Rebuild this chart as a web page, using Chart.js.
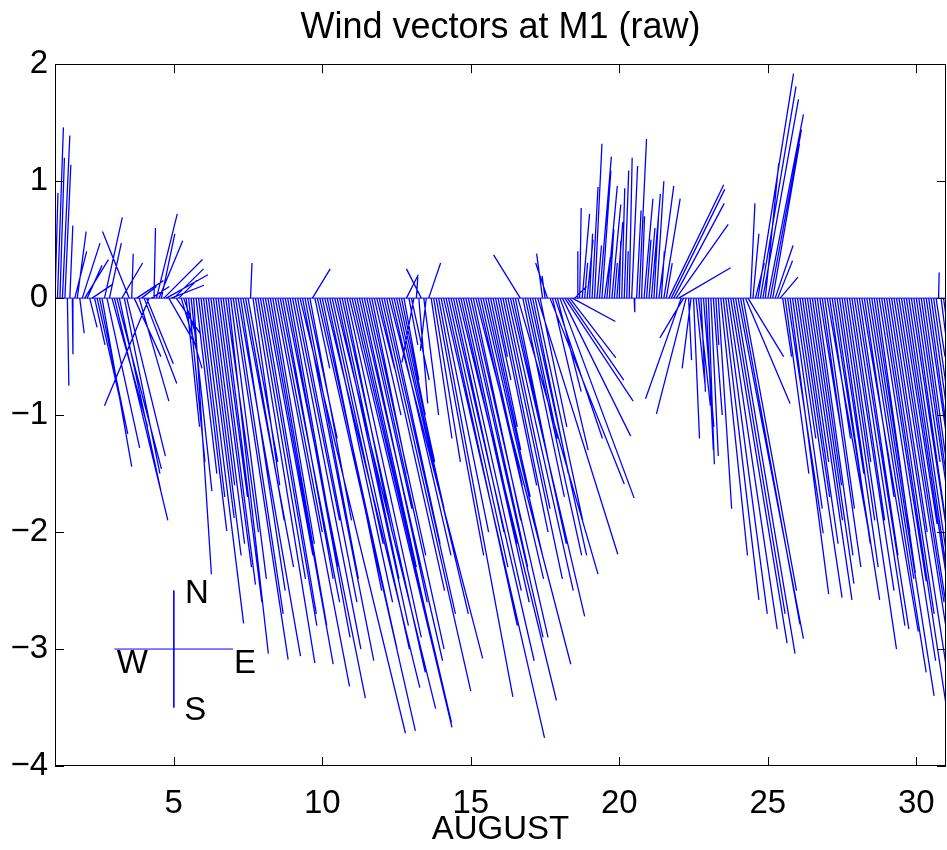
<!DOCTYPE html>
<html>
<head>
<meta charset="utf-8">
<script src="https://cdn.jsdelivr.net/npm/chart.js@4.4.1/dist/chart.umd.min.js"></script>
<style>
  html, body { margin: 0; background: #fff; }
  canvas { display: block; }
</style>
</head>
<body>
<canvas id="chart" width="947" height="850"></canvas>
<script>
// sampling of the record: 2-hourly, starting 1 August
const FIRST_DAY = 1;
const SAMPLES_PER_DAY = 12;

// feather components: u = east offset (in day units), v = north
const windU = [
  0.10, 0.20, 0.15, 0.25, 0.20, 0.05, 0.10, 0.02, 0.40, 0.30, 0.15, 0.60,      // 1
  0.80, 0.50, 0.25, 0.70, 0.35, 0.80, 0.95, 1.00, 0.60, 1.10, 0.40, 1.20,      // 2
  1.80, 1.50, 1.40, 0.70, 1.20, 1.30, -0.90, 0.05, 0.90, 0.90, 1.00, 0.50,     // 3
  1.10, 0.90, -1.50, 0.60, 0.05, 0.70, 0.80, 0.45, 1.30, 1.40, 0.90, 1.10,     // 4
  1.00, 0.80, 0.60, 0.70, 0.40, 0.45, 0.55, 0.70, 0.60, 0.70, 0.95, 0.80,      // 5
  1.35, 0.95, 1.10, 0.80, 1.05, 1.20, 1.25, 0.90, 1.30, 1.10, 1.35, 1.20,      // 6
  1.85, 1.60, 2.10, 1.50, 1.70, 1.30, 1.00, 0.05, 0.90, 2.00, 1.60, 1.90,      // 7
  1.80, 1.60, 2.20, 1.90, 1.40, 2.50, 1.50, 2.00, 1.70, 2.70, 2.10, 1.60,      // 8
  2.30, 1.50, 2.00, 3.55, 2.40, 1.80, 1.00, 1.40, 0.60, 0.50, 3.30, 2.60,      // 9
  2.00, 3.20, 2.20, 1.80, 2.60, 3.40, 2.40, 2.00, 2.80, 1.60, 2.50, 3.45,      // 10
  3.35, 2.50, 2.00, 2.80, 2.20, 1.60, 2.60, 1.90, 1.20, 0.90, 0.60, 2.20,      // 11
  3.00, 2.40, 1.80, 3.15, 2.00, 2.50, 1.60, 1.20, 0.80, 0.50, 0.40, 0.30,      // 12
  0.60, -0.40, 0.05, 0.30, -0.50, 0.50, -0.20, 0.40, 0.70, 0.90, 1.60, 2.50,   // 13
  1.60, 3.40, 2.40, 2.00, 2.80, 1.70, 2.20, 3.30, 2.30, 1.80, 2.60, 2.00,      // 14
  2.60, 1.60, 3.20, 2.20, 1.40, 2.00, 1.50, 1.10, 0.90, 0.60, 0.40, 1.30,      // 15
  1.60, 2.00, 1.50, 2.20, 2.50, 1.80, 1.20, 2.70, -0.90, 1.40, 1.90, 1.00,     // 16
  1.90, 1.20, 1.60, 2.70, 0.90, -0.20, -0.10, -0.40, 2.50, 1.20, 1.60, 0.80,   // 17
  2.50, 2.30, 2.30, 1.90, 1.55, 1.45, 0.40, 0.02, 0.05, 0.25, 0.10, 0.20,      // 18
  0.10, 0.20, 0.25, 0.15, 0.40, 0.30, 0.20, 0.35, 0.15, 0.30, 0.10, 0.20,      // 19
  0.05, 0.10, 0.15, 0.05, 0.10, 0.20, 0.02, 0.15, 0.25, 0.10, 0.30, 0.15,      // 20
  0.20, 0.30, 0.15, 0.25, 0.50, 0.10, 0.55, 0.20, 1.85, 1.80, 1.70, 1.75,      // 21
  1.75, -1.20, -0.80, -1.00, 0.10, -0.30, 0.20, 0.30, 0.40, 0.15, 0.35, 0.25,  // 22
  0.20, 0.25, 0.30, 0.10, 0.45, 0.90, 1.20, 1.40, 1.65, 1.90, 1.75, 2.00,      // 23
  2.20, 2.00, 1.80, 1.50, 1.20, 0.15, 0.20, 0.30, 1.20, 1.20, 1.20, 0.45,      // 24
  1.20, 1.05, 0.90, 0.60, 0.50, 0.60, 0.30, 0.80, 1.20, 1.30, 1.00, 0.70,      // 25
  1.50, 1.00, 1.20, 0.80, 1.50, 1.10, 1.40, 0.90, 1.20, 0.70, 1.30, 1.00,      // 26
  1.40, 0.70, 1.60, 1.20, 0.90, 1.30, 1.10, 1.75, 0.80, 1.50, 1.10, 1.70,      // 27
  1.75, 1.30, 1.90, 1.00, 2.00, 1.50, 2.10, 1.20, 1.30, 1.90, 1.50, 2.10,      // 28
  1.60, 2.20, 1.20, 2.30, 1.60, 2.20, 1.20, 1.80, 1.40, 2.20, 1.20, 1.80,      // 29
  0.80, 1.50, 1.00, 1.80, 0.70, 1.20, 0.50, 0.90, 0.30, 0.02, 0.30, 0.60       // 30
];
const windV = [
  0.90, 1.46, 1.20, 1.39, 1.14, -0.75, 0.62, -0.48, 0.40, 0.57, -0.30, 0.47,          // 1
  0.33, 0.28, -0.25, 0.12, -0.40, -0.90, -1.16, -1.44, 0.69, -1.28, 0.47, -1.10,      // 2
  -1.90, -1.46, -1.65, 0.30, -1.50, -1.35, 0.57, 0.38, -0.50, 0.15, -0.88, 0.10,      // 3
  -0.73, -0.56, -0.92, 0.10, 0.60, 0.72, 0.49, 0.55, 0.33, 0.20, -0.40, 0.11,         // 4
  0.25, -0.30, 0.15, -0.60, -0.30, -1.10, -1.40, -1.65, -2.36, -1.50, -1.99, -1.70,   // 5
  -2.78, -1.88, -2.20, -1.60, -2.10, -2.30, -2.45, -1.70, -2.60, -2.00, -3.04, -2.40, // 6
  -3.09, -2.70, -3.06, -2.50, -2.30, -1.90, -1.40, 0.30, -1.60, -3.12, -2.40, -2.80,  // 7
  -2.70, -2.20, -3.13, -2.80, -2.10, -3.32, -2.00, -2.60, -2.40, -3.42, -2.90, -2.30, // 8
  -3.00, -1.90, -2.60, -3.72, -3.10, -2.40, -1.20, -1.90, 0.25, -0.60, -3.70, -3.00,  // 9
  -2.50, -3.33, -2.60, -2.10, -3.00, -3.51, -2.80, -2.40, -3.20, -2.00, -2.90, -3.67, // 10
  -3.63, -2.80, -2.30, -3.10, -2.60, -1.80, -3.00, -2.20, -1.50, -1.00, -0.60, -2.50, // 11
  -3.36, -2.70, -2.10, -3.08, -2.20, -2.70, -1.80, -1.40, -1.00, -0.70, 0.20, -0.40,  // 12
  -0.70, -0.55, 0.18, -0.90, 0.25, -1.00, -0.45, 0.30, -1.20, -1.40, -2.20, -3.41,    // 13
  -2.00, -3.76, -2.80, -2.30, -3.10, -2.00, -2.50, -3.44, -2.60, -2.10, -2.90, -2.30, // 14
  -2.90, -1.90, -3.13, -2.40, -1.60, -2.20, -1.70, -1.30, -1.10, -0.70, -0.50, -1.60, // 15
  -2.00, -2.40, -1.80, -2.50, -2.72, -2.10, -1.50, -2.36, 0.37, -1.70, -2.20, -1.20,  // 16
  -2.20, -1.50, -1.90, -2.19, -1.10, 0.38, 0.19, 0.30, -1.59, -1.30, -1.20, -0.80,    // 17
  -1.71, -1.18, -0.88, -0.70, -0.51, -0.20, 0.10, 0.40, 0.77, 0.72, 0.30, 0.50,       // 18
  0.55, 0.95, 1.32, 0.45, 1.21, 1.09, 0.35, 0.96, 0.59, 0.80, 0.30, 0.65,             // 19
  0.49, 0.94, 1.09, 0.40, 1.20, 1.13, -0.12, 0.75, 1.36, 0.70, 0.85, 0.50,            // 20
  0.60, 0.89, 0.68, 1.00, 0.96, 0.40, 0.85, 0.30, 0.97, 0.93, 0.81, 0.63,             // 21
  0.26, -0.86, -0.34, -0.99, -0.53, -0.60, -1.20, -0.73, -0.92, -0.80, -1.10, -1.30,  // 22
  -1.42, -1.35, -1.00, -0.40, -1.80, -2.20, -2.58, -2.70, -2.83, -2.95, -2.70, -3.04, // 23
  -2.91, -2.79, -2.50, -0.90, -0.50, 0.81, 0.55, 0.30, 1.92, 1.81, 1.70, 1.15,        // 24
  1.57, 1.44, 1.32, 0.45, 0.32, 0.18, -0.50, -1.50, -2.01, -2.53, -1.80, -1.20,       // 25
  -2.56, -1.70, -2.10, -1.40, -2.58, -1.90, -2.44, -1.60, -2.20, -1.10, -2.30, -1.80, // 26
  -2.00, -1.20, -2.58, -2.10, -1.50, -2.30, -1.90, -3.00, -1.40, -2.50, -1.90, -2.80, // 27
  -2.83, -2.20, -2.85, -1.70, -3.20, -2.40, -3.40, -2.00, -2.35, -3.10, -2.42, -3.50, // 28
  -2.70, -3.60, -2.00, -3.70, -2.60, -3.64, -1.93, -3.00, -2.40, -3.80, -2.00, -3.20, // 29
  -1.40, -2.60, -1.80, -3.30, -1.20, -2.20, -0.90, -1.60, -0.50, 0.22, -0.60, -1.10   // 30
];

const xTicks = [5, 10, 15, 20, 25, 30];
const yTicks = [-4, -3, -2, -1, 0, 1, 2];
const xRange = [1, 31];
const yRange = [-4, 2];

const FONT = "'Liberation Sans', Arial, Helvetica, sans-serif";
const BLUE = '#0000ff';

// each vector: baseline point -> tip, then a gap
const feather = [];
windU.forEach((u, i) => {
  const t = FIRST_DAY + i / SAMPLES_PER_DAY;
  feather.push({x: t, y: 0}, {x: t + u, y: windV[i]}, {x: t, y: null});
});

// N/S/W/E cross drawn in the lower left corner
const compass = [
  {x: 3, y: -3}, {x: 7, y: -3}, {x: 5, y: null},
  {x: 5, y: -2.5}, {x: 5, y: -3.5}
];
const compassText = [
  {t: 'N', x: 5.78, y: -2.53},
  {t: 'S', x: 5.72, y: -3.53},
  {t: 'W', x: 3.6, y: -3.13},
  {t: 'E', x: 7.4, y: -3.13}
];

const frame = {
  id: 'frame',
  afterDatasetsDraw(chart) {
    const {ctx, chartArea: a, scales: {x, y}} = chart;
    ctx.save();
    ctx.strokeStyle = '#000';
    ctx.lineWidth = 1;
    ctx.strokeRect(Math.round(a.left) + 0.5, Math.round(a.top) + 0.5,
                   Math.round(a.right - a.left) - 1, Math.round(a.bottom - a.top) - 1);
    const len = 9;
    ctx.beginPath();
    x.ticks.forEach(tk => {
      const px = Math.round(x.getPixelForValue(tk.value)) + 0.5;
      ctx.moveTo(px, a.bottom); ctx.lineTo(px, a.bottom - len);
      ctx.moveTo(px, a.top); ctx.lineTo(px, a.top + len);
    });
    y.ticks.forEach(tk => {
      const py = Math.round(y.getPixelForValue(tk.value)) + 0.5;
      ctx.moveTo(a.left, py); ctx.lineTo(a.left + len, py);
      ctx.moveTo(a.right, py); ctx.lineTo(a.right - len, py);
    });
    ctx.stroke();
    ctx.fillStyle = '#000';
    ctx.font = `33px ${FONT}`;
    ctx.textAlign = 'center';
    ctx.textBaseline = 'middle';
    compassText.forEach(c => ctx.fillText(c.t, x.getPixelForValue(c.x), y.getPixelForValue(c.y)));
    ctx.restore();
  }
};

new Chart(document.getElementById('chart'), {
  type: 'line',
  data: {
    datasets: [
      {data: feather, borderColor: BLUE, borderWidth: 1.3, pointRadius: 0, spanGaps: false},
      {data: [{x: xRange[0], y: 0}, {x: xRange[1], y: 0}], borderColor: BLUE, borderWidth: 1, pointRadius: 0},
      {data: compass, borderColor: BLUE, borderWidth: 1, pointRadius: 0, spanGaps: false}
    ]
  },
  options: {
    responsive: false,
    animation: false,
    events: [],
    layout: {padding: {top: 0, right: 1, bottom: 0, left: 0}},
    plugins: {
      legend: {display: false},
      tooltip: {enabled: false},
      title: {
        display: true,
        fullSize: false,
        text: 'Wind vectors at M1 (raw)',
        color: '#000',
        font: {family: FONT, size: 36, weight: 'normal', lineHeight: 1.2},
        padding: {top: 6, bottom: 15}
      }
    },
    scales: {
      x: {
        type: 'linear',
        min: xRange[0], max: xRange[1],
        afterBuildTicks: s => { s.ticks = xTicks.map(v => ({value: v})); },
        afterFit: s => { s.height = 84; },
        grid: {display: false},
        border: {display: false},
        ticks: {color: '#000', font: {family: FONT, size: 33}, padding: 10, maxRotation: 0, autoSkip: false},
        title: {display: true, text: 'AUGUST', color: '#000',
                font: {family: FONT, size: 33, lineHeight: 1.2}, padding: {top: 0, bottom: 0}}
      },
      y: {
        type: 'linear',
        min: yRange[0], max: yRange[1],
        afterBuildTicks: s => { s.ticks = yTicks.map(v => ({value: v})); },
        afterFit: s => { s.width = 55; },
        grid: {display: false, drawTicks: false},
        border: {display: false},
        ticks: {
          color: '#000', font: {family: FONT, size: 33}, padding: 7,
          callback: v => (v < 0 ? '\u2212' + Math.abs(v) : String(v))
        }
      }
    }
  },
  plugins: [frame]
});
</script>
</body>
</html>
